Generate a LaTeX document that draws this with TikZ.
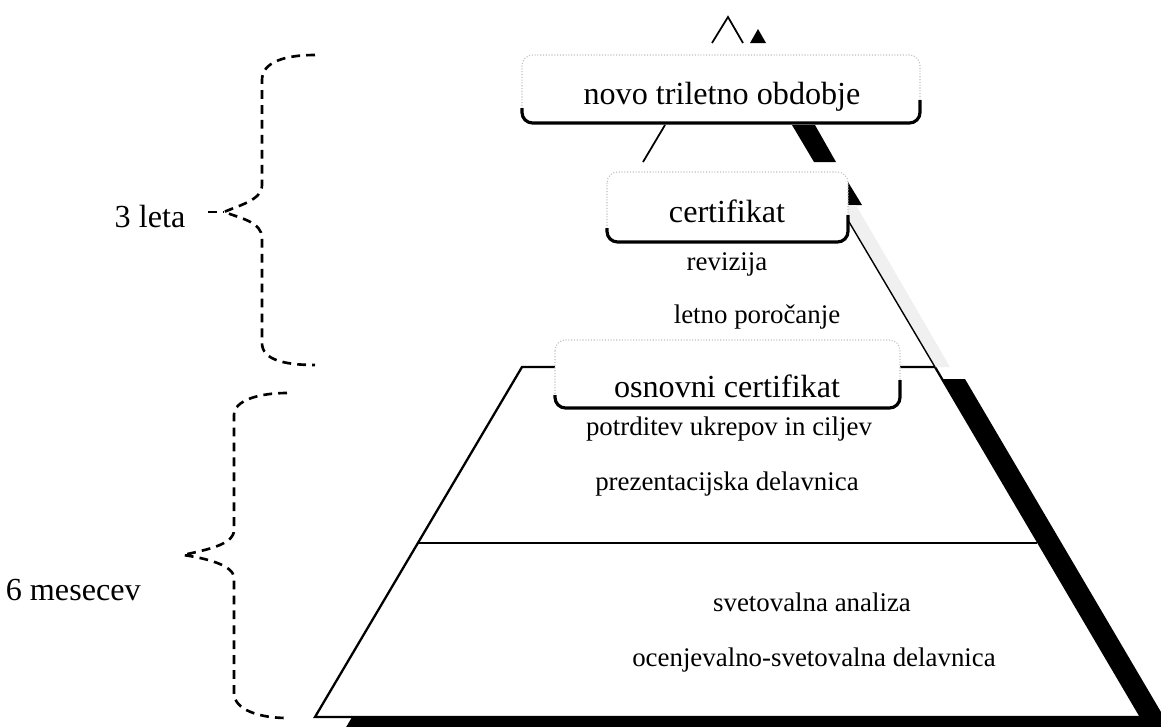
\documentclass[tikz,border=0pt]{standalone}
\usepackage{fontspec}
\setmainfont{Liberation Serif}
\tikzset{
  rim/.style={gray!50, line width=0.6pt, densely dotted, rounded corners=6pt},
  shade/.style={line width=1.8pt, rounded corners=6pt},
  klamra/.style={line width=1.5pt, dash pattern=on 5pt off 3.5pt},
  rob/.style={line width=1.3pt, line join=miter},
  biglbl/.style={anchor=base, inner sep=0pt, font=\fontsize{18.3}{20}\selectfont},
  smalllbl/.style={anchor=base, inner sep=0pt, font=\fontsize{15.3}{17}\selectfont},
}
\begin{document}
\begin{tikzpicture}[x=0.02cm, y=-0.02cm]
            \useasboundingbox (0,0) rectangle (1161,727);

            % senca spodnjega trapeza
            \fill (552,379) -- (965,379) -- (1171,729) -- (345,729) -- cycle;
            % spodnji trapez (6 mesecev)
            \draw[rob, fill=white] (522,367) -- (935,367) -- (1141,717) -- (315,717) -- cycle;
            \draw[line width=1.2pt] (418,543) -- (1037,543);

            % vrh piramide
            \draw[line width=1pt] (712,43) -- (728,17) -- (743,43);
            \fill (758,29) -- (766,43) -- (750,43) -- cycle;

            % med okvirjema zgoraj
            \draw[line width=1pt] (665,125) -- (643,162);
            \fill (792,125) -- (815,125) -- (836,162) -- (814,162) -- cycle;

            % desni rob ob certifikatu
            \fill (825,182) -- (848,182) -- (862,205) -- (839,205) -- cycle;
            \fill[gray!12] (839,205) -- (856,205) -- (950,367) -- (935,367) -- cycle;
            \draw[line width=0.8pt] (839,205) -- (935,367);

            % okvirji
            \draw[rim, fill=white] (522,55) rectangle (920,123);
            \draw[shade] (522,108) -- (522,123) -- (920,123) -- (920,100);
            \draw[rim, fill=white] (607,172) rectangle (848,242);
            \draw[shade] (607,228) -- (607,242) -- (848,242) -- (848,215);
            \draw[rim, fill=white] (555,340) rectangle (900,408);
            \draw[shade] (555,395) -- (555,408) -- (900,408) -- (900,380);

            % napisi
            \node[biglbl] (novo) at (722,104) {novo triletno obdobje};
            \node[biglbl] (cert) at (727,222) {certifikat};
            \node[smalllbl] (rev) at (727,270) {revizija};
            \node[smalllbl] (letno) at (757,323) {letno poročanje};
            \node[biglbl] (osn) at (727,397) {osnovni certifikat};
            \node[smalllbl] (potr) at (729,435) {potrditev ukrepov in ciljev};
            \node[smalllbl] (prez) at (727,490) {prezentacijska delavnica};
            \node[smalllbl] (svet) at (812,611) {svetovalna analiza};
            \node[smalllbl] (ocen) at (814,666) {ocenjevalno-svetovalna delavnica};

            % oklepaja na levi
            \node[biglbl] (leta) at (150,227) {3 leta};
            \node[biglbl, anchor=base east] (mes) at (141,600) {6 mesecev};
            \coordinate (tri) at (224,212);
            \coordinate (sest) at (183,555);
            \draw[klamra] (208,212) -- (tri);
            \draw[klamra] (315,55) .. controls (285,55) and (262,62) .. (262,80) -- (262,185)
                .. controls (262,200) and (240,205) .. (tri)
                .. controls (240,218) and (262,222) .. (262,238) -- (262,343)
                .. controls (262,360) and (285,365) .. (315,365);
            \draw[klamra] (287,393) .. controls (260,393) and (234,400) .. (234,415) -- (234,530)
                .. controls (234,545) and (205,550) .. (sest)
                .. controls (205,558) and (234,565) .. (234,578) -- (234,693)
                .. controls (234,710) and (260,718) .. (287,718);
\end{tikzpicture}
\end{document}
